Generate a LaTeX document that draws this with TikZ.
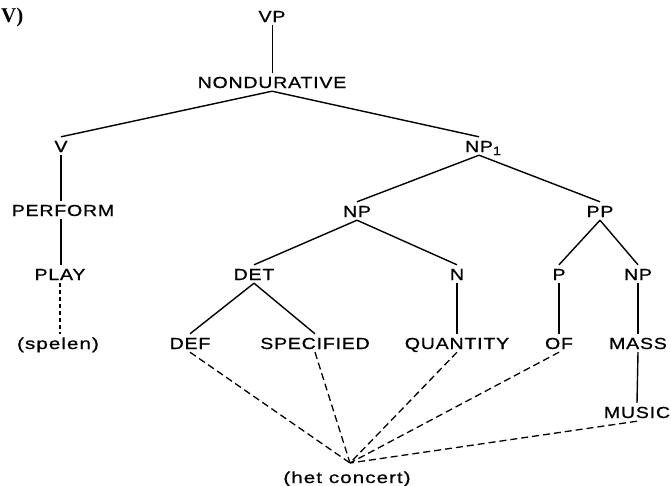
\documentclass[tikz,border=0pt]{standalone}
\usepackage{fontspec}
\newfontfamily\tf{Liberation Sans}[FakeStretch=1.22,LetterSpace=5,FakeBold=0.8]
\newfontfamily\lf{Liberation Sans}[FakeStretch=1.3,LetterSpace=6,FakeBold=0.8]
\newfontfamily\serfont{Liberation Serif}
\begin{document}
\begin{tikzpicture}[x=1pt,y=-1pt,
  lab/.style={font=\tf\fontsize{16}{19}\selectfont, text height=12pt, text depth=0pt, inner sep=3pt},
  low/.style={font=\lf\fontsize{16}{19}\selectfont, text height=12pt, text depth=0pt, inner sep=3pt},
  edge/.style={line width=1.4pt},
  thinedge/.style={line width=0.9pt},
  dsh/.style={line width=1.3pt, dash pattern=on 7pt off 4pt},
  dshs/.style={line width=1.1pt, dash pattern=on 4pt off 3pt}]
\useasboundingbox (0,0) rectangle (671,485);
\node[font=\serfont\bfseries\fontsize{21}{24}\selectfont, anchor=west, inner sep=0pt] (title) at (1,17) {V)};
\node[lab] (vp) at (272,16) {VP};
\node[lab] (nd) at (272,82) {NONDURATIVE};
\node[lab] (v) at (61,146) {V};
\node[lab] (np1) at (479,146) {NP\rlap{\raisebox{-3pt}{\fontsize{12}{14}\selectfont 1}}};
\node[lab] (perform) at (63,210) {PERFORM};
\node[lab] (play) at (60,274) {PLAY};
\node[low] (spelen) at (58,343) {(spelen)};
\node[lab] (np) at (357,211) {NP};
\node[lab] (pp) at (600,211) {PP};
\node[lab] (det) at (254,274) {DET};
\node[lab] (n) at (457,274) {N};
\node[lab] (p) at (559,274) {P};
\node[lab] (np2) at (638,274) {NP};
\node[lab] (def) at (190,343) {DEF};
\node[lab] (spec) at (315,343) {SPECIFIED};
\node[lab] (quant) at (457,343) {QUANTITY};
\node[lab] (of) at (559,343) {OF};
\node[lab] (mass) at (638,343) {MASS};
\node[lab] (music) at (637,412) {MUSIC};
\node[low] (hc) at (347,477) {(het concert)};
\coordinate (conv) at (350,463);

\draw[thinedge] (vp.south) -- (nd.north);
\draw[edge] (nd.south) -- (v.north);
\draw[edge] (nd.south) -- (np1.north);
\draw[edge] (v.south) -- (v.south |- perform.north);
\draw[edge] (v.south |- perform.south) -- (v.south |- play.north);
\draw[dshs] (play.south) -- (play.south |- spelen.north);
\draw[edge] (np1.south) -- (np.north);
\draw[edge] (np1.south) -- (pp.north);
\draw[edge] (np.south) -- (det.north);
\draw[edge] (np.south) -- (n.north);
\draw[edge] (pp.south) -- (p.north);
\draw[edge] (pp.south) -- (np2.north);
\draw[edge] (det.south) -- (def.north);
\draw[edge] (det.south) -- (spec.north);
\draw[edge] (n.south) -- (quant.north);
\draw[edge] (p.south) -- (of.north);
\draw[edge] (np2.south) -- (mass.north);
\draw[edge] (mass.south) -- (music.north);
\draw[dsh] (def.south) -- (conv);
\draw[dsh] (spec.south) -- (conv);
\draw[dsh] (quant.south) -- (conv);
\draw[dsh] (of.south) -- (conv);
\draw[dsh] (music.south) -- (conv);
\end{tikzpicture}
\end{document}
